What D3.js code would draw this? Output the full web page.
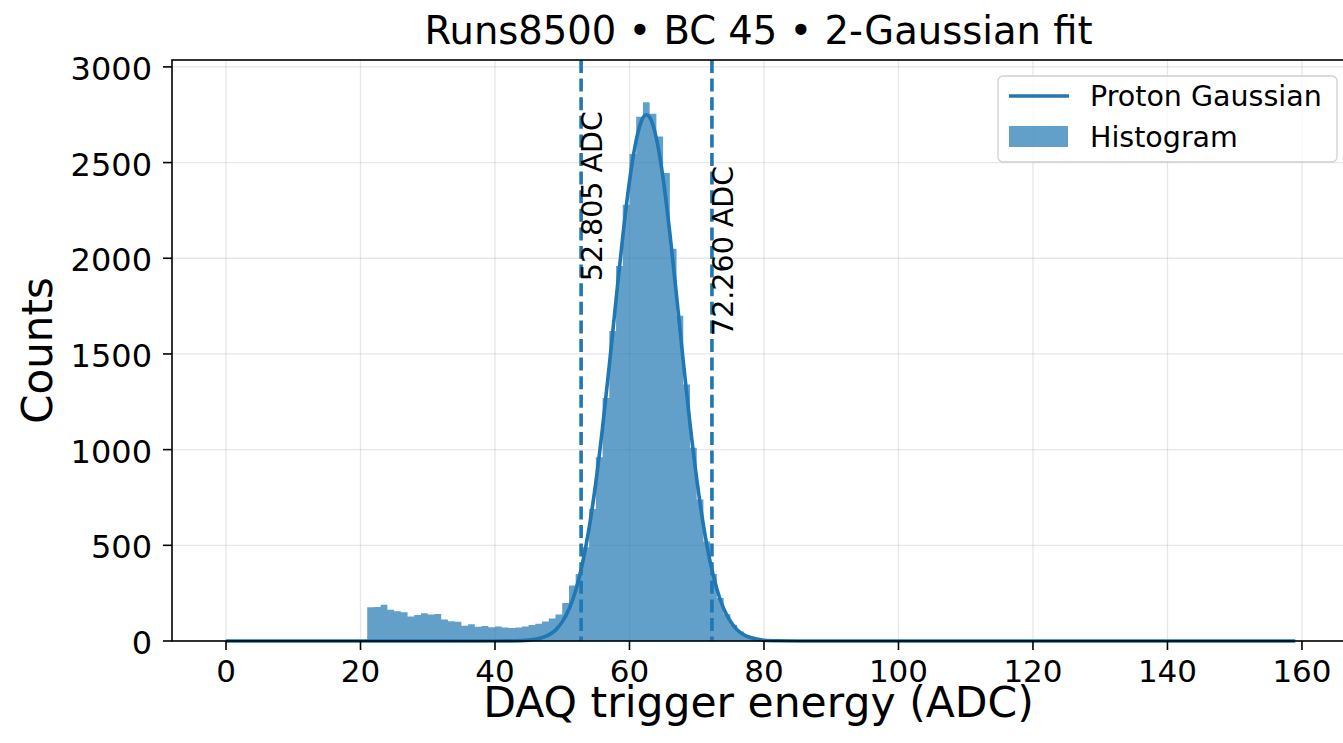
<!DOCTYPE html>
<html>
<head>
<meta charset="utf-8">
<script src="https://cdn.jsdelivr.net/npm/d3@7"></script>
<style>
  html, body { margin: 0; padding: 0; background: #fff; }
  svg { display: block; font-family: "DejaVu Sans", sans-serif; }
</style>
</head>
<body>
<div id="chart"></div>
<script>
// Histogram: left edge of each 1-ADC bin and its count
const binEdges = [21,22,23,24,25,26,27,28,29,30,31,32,33,34,35,36,37,38,39,40,
                  41,42,43,44,45,46,47,48,49,50,51,52,53,54,55,56,57,58,59,60,
                  61,62,63,64,65,66,67,68,69,70,71,72,73,74,75,76,77,78,79,80,81,82]
const binCounts = [176,178,190,163,155,150,128,136,145,138,141,112,103,100,80,88,74,78,72,76,
                   70,68,70,76,84,90,102,118,138,198,290,350,490,690,960,1270,1620,1960,2280,2545,
                   2740,2815,2755,2636,2446,2050,1700,1340,1010,740,520,350,225,140,85,50,28,15,8,4,2,1]
const binWidth = 1

// Proton Gaussian curve
const curveX = [0,40,44,46,48,49,50,51,52,53,54,55,56,57,58,59,60,61,62,62.5,
                63,64,65,66,67,68,69,70,71,72,73,74,75,76,77,78,80,82,85,159]
const curveY = [0,0,2,9,32,57,100,166,264,404,591,830,1117,1441,1782,2113,2402,2617,2734,2750,
                2737,2627,2417,2132,1803,1461,1135,846,604,413,271,170,103,59,33,18,4,1,0,0]

// Dashed cut lines
const cutValues = [52.805, 72.260]
const cutLabels = ["52.805 ADC", "72.260 ADC"]

const xTicks = [0,20,40,60,80,100,120,140,160]
const yTicks = [0,500,1000,1500,2000,2500,3000]

const titleText = "Runs8500 \u2022 BC 45 \u2022 2-Gaussian fit"
const legendLabels = ["Proton Gaussian", "Histogram"]

const WIDTH = 1343
const HEIGHT = 743
const PLOT = {LEFT:172, RIGHT:1345, TOP:60, BOTTOM:641}
const BLUE = "#1f77b4"

const svg = d3.select("#chart").append("svg")
    .attr("width", WIDTH)
    .attr("height", HEIGHT)

const x = d3.scaleLinear().domain([-8.03, 166.4]).range([PLOT.LEFT, PLOT.RIGHT])
const y = d3.scaleLinear().domain([0, 3036]).range([PLOT.BOTTOM, PLOT.TOP])

// grid
const grid = svg.append("g").attr("stroke", "#b0b0b0").attr("stroke-opacity", 0.3).attr("stroke-width", 1.3)
grid.selectAll(".gx").data(xTicks).enter().append("line")
    .attr("x1", d=>x(d)).attr("x2", d=>x(d))
    .attr("y1", PLOT.TOP).attr("y2", PLOT.BOTTOM)
grid.selectAll(".gy").data(yTicks).enter().append("line")
    .attr("x1", PLOT.LEFT).attr("x2", PLOT.RIGHT)
    .attr("y1", d=>y(d)).attr("y2", d=>y(d))

// histogram as a filled step shape
const bins = binEdges.map((e,i)=>({x:e, c:binCounts[i]}))
bins.push({x: binEdges[binEdges.length-1] + binWidth, c: 0})
const histArea = d3.area()
    .x(d=>x(d.x))
    .y0(y(0))
    .y1(d=>y(d.c))
    .curve(d3.curveStepAfter)
svg.append("path")
    .datum(bins)
    .attr("d", histArea)
    .attr("fill", BLUE)
    .attr("fill-opacity", 0.7)

// gaussian curve
const curvePts = curveX.map((v,i)=>[v, curveY[i]])
svg.append("path")
    .datum(curvePts)
    .attr("d", d3.line().x(d=>x(d[0])).y(d=>y(d[1])).curve(d3.curveMonotoneX))
    .attr("fill", "none")
    .attr("stroke", BLUE)
    .attr("stroke-width", 3.6)
    .attr("stroke-linejoin", "round")

// cut lines
svg.selectAll(".cut").data(cutValues).enter().append("line")
    .attr("x1", d=>x(d)).attr("x2", d=>x(d))
    .attr("y1", PLOT.TOP).attr("y2", PLOT.BOTTOM)
    .attr("stroke", BLUE)
    .attr("stroke-width", 3.6)
    .attr("stroke-dasharray", "13,5.6")

// cut labels (rotated), start heights in counts
const labelStart = [1880, 1594]
svg.selectAll(".cutlabel").data(cutValues).enter().append("text")
    .attr("transform", (d,i)=>`translate(${x(d)+21},${y(labelStart[i])}) rotate(-90)`)
    .attr("font-size", 28.5)
    .attr("fill", "#000")
    .text((d,i)=>cutLabels[i])

// spines
svg.append("rect")
    .attr("x", PLOT.LEFT).attr("y", PLOT.TOP)
    .attr("width", PLOT.RIGHT-PLOT.LEFT).attr("height", PLOT.BOTTOM-PLOT.TOP)
    .attr("fill", "none").attr("stroke", "#000").attr("stroke-width", 1.6)

// x axis ticks
const xAxis = svg.append("g")
xAxis.selectAll("line").data(xTicks).enter().append("line")
    .attr("x1", d=>x(d)).attr("x2", d=>x(d))
    .attr("y1", PLOT.BOTTOM).attr("y2", PLOT.BOTTOM+9)
    .attr("stroke", "#000").attr("stroke-width", 1.6)
xAxis.selectAll("text").data(xTicks).enter().append("text")
    .attr("x", d=>x(d)).attr("y", 682)
    .attr("text-anchor", "middle")
    .attr("font-size", 31)
    .text(d=>d)

// y axis ticks
const yAxis = svg.append("g")
yAxis.selectAll("line").data(yTicks).enter().append("line")
    .attr("x1", PLOT.LEFT-9).attr("x2", PLOT.LEFT)
    .attr("y1", d=>y(d)).attr("y2", d=>y(d))
    .attr("stroke", "#000").attr("stroke-width", 1.6)
yAxis.selectAll("text").data(yTicks).enter().append("text")
    .attr("x", 152).attr("y", d=>y(d)+13)
    .attr("text-anchor", "end")
    .attr("font-size", 32)
    .text(d=>d)

// labels and title
svg.append("text")
    .attr("x", (PLOT.LEFT+PLOT.RIGHT)/2).attr("y", 717)
    .attr("text-anchor", "middle").attr("font-size", 42.5)
    .text("DAQ trigger energy (ADC)")
svg.append("text")
    .attr("transform", `translate(52,${(PLOT.TOP+PLOT.BOTTOM)/2}) rotate(-90)`)
    .attr("text-anchor", "middle").attr("font-size", 42)
    .text("Counts")
svg.append("text")
    .attr("x", (PLOT.LEFT+PLOT.RIGHT)/2).attr("y", 44)
    .attr("text-anchor", "middle").attr("font-size", 38.5)
    .text(titleText)

// legend
const legend = svg.append("g")
legend.append("rect")
    .attr("x", 998).attr("y", 76).attr("width", 339).attr("height", 86).attr("rx", 5)
    .attr("fill", "#fff").attr("fill-opacity", 0.8)
    .attr("stroke", "#d0d0d0").attr("stroke-width", 1.3)
legend.append("line")
    .attr("x1", 1009).attr("x2", 1069).attr("y1", 96).attr("y2", 96)
    .attr("stroke", BLUE).attr("stroke-width", 3.6)
legend.append("rect")
    .attr("x", 1009).attr("y", 126).attr("width", 59).attr("height", 21)
    .attr("fill", BLUE).attr("fill-opacity", 0.7)
legend.selectAll(".lt").data(legendLabels).enter().append("text")
    .attr("x", 1090).attr("y", (d,i)=>i===0 ? 106 : 147)
    .attr("font-size", 28.5)
    .text(d=>d)
</script>
</body>
</html>
